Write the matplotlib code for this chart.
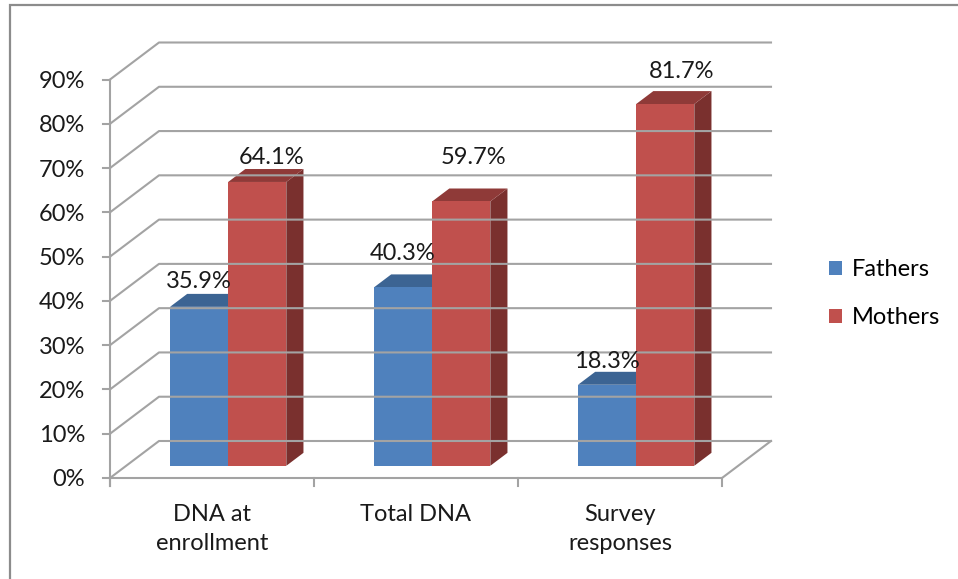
import matplotlib.pyplot as plt
from matplotlib.patches import Polygon, Rectangle, Patch

categories = ["DNA at\nenrollment", "Total DNA", "Survey\nresponses"]
fathers = [35.9, 40.3, 18.3]
mothers = [64.1, 59.7, 81.7]
series_names = ["Fathers", "Mothers"]
yticks = list(range(0, 100, 10))

plt.rcParams['font.family'] = ['Lato', 'DejaVu Sans']

W, H = 958, 579
fig = plt.figure(figsize=(W / 100, H / 100), dpi=100)
fig.patch.set_facecolor('white')

# front face of the plot box, in pixels
x0, x1 = 110, 722
ybot, ytop = 478, 79.5
ax = fig.add_axes([x0 / W, 1 - ybot / H, (x1 - x0) / W, (ybot - ytop) / H])
ax.set_xlim(0, len(categories))
ax.set_ylim(0, 90)
ax.axis('off')

# size of one pixel in data units
PX = len(categories) / (x1 - x0)
PY = 90 / (ybot - ytop)

# oblique depth of the walls
DX = 49 * PX
DY = 37 * PY


def proj(x, y, z):
    return x + z * DX, y + z * DY


grid_kw = dict(color='#a3a3a3', lw=1.5, clip_on=False, solid_capstyle='projecting')
n = len(categories)
for v in yticks:
    pts = [proj(0, v, 0), proj(0, v, 1), proj(n, v, 1)]
    ax.plot(*zip(*pts), **grid_kw)
# floor outline
pts = [proj(n, 0, 1), proj(n, 0, 0), proj(0, 0, 0)]
ax.plot(*zip(*pts), **grid_kw)

# value axis with ticks
ax.plot([0, 0], [-8 * PY, 90], **grid_kw)
for v in yticks:
    ax.plot([-7 * PX, 0], [v, v], **grid_kw)
    ax.text(-25 * PX, v, f"{v}%", ha='right', va='center_baseline',
            fontsize=17, color='#1a1a1a')
for i in range(n + 1):
    ax.plot([i, i], [0, -8 * PY], **grid_kw)
for i, lab in enumerate(categories):
    ax.text(i + 0.5, -26 * PY, lab, ha='center', va='top', fontsize=17,
            linespacing=1.45, color='#1a1a1a')

# 3d bars
width = 0.285
z0, z1 = 0.33, 0.68
colors = {
    "Fathers": ('#4f81bd', '#3c6493', '#2f4f75'),
    "Mothers": ('#c0504d', '#8f3a38', '#7a302e'),
}
# label nudges (px right, px above the front top edge)
nudges = {
    "Fathers": [(0, 19), (0, 27), (0, 17)],
    "Mothers": [(14, 18), (12, 37), (16, 26)],
}


def draw_bar(xl, xr, v, front, top, side):
    bl = proj(xl, 0, z0)
    br = proj(xr, 0, z0)
    tl = proj(xl, v, z0)
    tr = proj(xr, v, z0)
    tlb = proj(xl, v, z1)
    trb = proj(xr, v, z1)
    brb = proj(xr, 0, z1)
    ax.add_patch(Polygon([br, brb, trb, tr], closed=True, fc=side, ec='none', clip_on=False))
    ax.add_patch(Polygon([tl, tr, trb, tlb], closed=True, fc=top, ec='none', clip_on=False))
    ax.add_patch(Polygon([bl, br, tr, tl], closed=True, fc=front, ec='none', clip_on=False))


for i in range(n):
    c = i + 0.5
    for name, vals, xl in (("Fathers", fathers, c - width), ("Mothers", mothers, c)):
        v = vals[i]
        draw_bar(xl, xl + width, v, *colors[name])
        fx, fy = proj(xl + width / 2, v, z0)
        dx, dy = nudges[name][i]
        ax.annotate(f"{v}%", xy=(fx, fy), xytext=(dx * 0.72, dy * 0.72),
                    textcoords='offset points', ha='center', va='baseline',
                    fontsize=17, color='#1a1a1a', annotation_clip=False)

# legend
handles = [Patch(fc=colors[s][0], ec='none') for s in series_names]
fig.legend(handles, series_names, loc='upper left',
           bbox_to_anchor=(829 / W, 1 - 259 / H), frameon=False, fontsize=17,
           handlelength=0.55, handleheight=0.55, handletextpad=0.4,
           labelspacing=1.15, borderpad=0, borderaxespad=0)

# chart border
fig.patches.append(Rectangle((10 / W, -0.1), 1.2, 1.1 - 5 / H, transform=fig.transFigure,
                             fill=False, ec='#8c8c8c', lw=1.6))

fig.savefig('out.png', dpi=100)
